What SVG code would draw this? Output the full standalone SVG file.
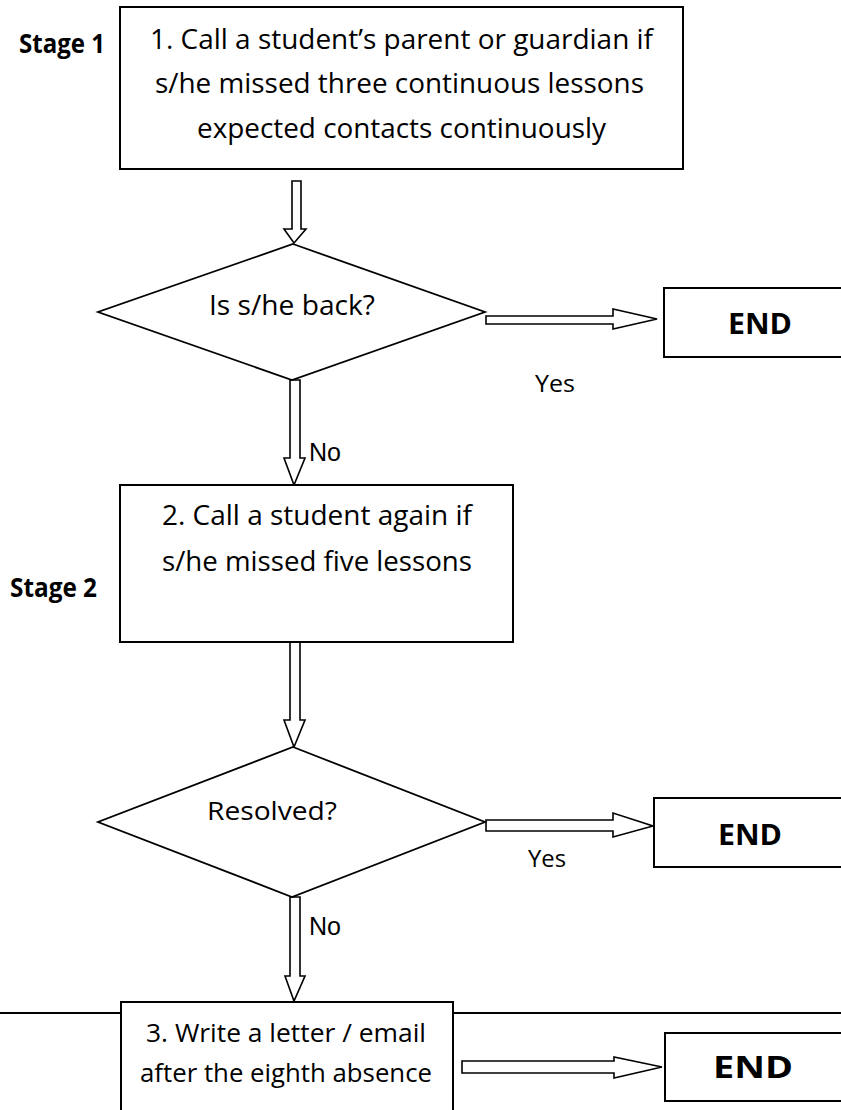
<svg xmlns="http://www.w3.org/2000/svg" width="841" height="1110" viewBox="0 0 841 1110">
<style>
.box{fill:#fff;stroke:#000;stroke-width:2}
.dia{fill:#fff;stroke:#000;stroke-width:1.8}
.arr{fill:#fff;stroke:#000;stroke-width:1.6;stroke-linejoin:miter}
.t{font-family:"Open Sans","Noto Sans",sans-serif;fill:#000}
.b{font-family:"Open Sans","Noto Sans",sans-serif;font-weight:bold;fill:#000}
.a{font-family:"Liberation Sans",Arial,sans-serif;fill:#000}
</style>
<rect width="841" height="1110" fill="#fff"/>
<g id="connectors">
<polygon class="arr" points="292,181 301,181 301,229 306,229 294,243 284,229 292,229"/>
<polygon class="arr" points="290,380 300,380 300,458 305,458 294,485 284,458 290,458"/>
<polygon class="arr" points="290,642 300,642 300,720 305,720 294,747 284,720 290,720"/>
<polygon class="arr" points="290,897 300,897 300,976 305,976 294,1001 285,976 290,976"/>
<polygon class="arr" points="486,316 613,316 613,309 657,319 613,329 613,324 486,324"/>
<polygon class="arr" points="486,820 613,820 613,813 653,826 613,837 613,831 486,831"/>
<polygon class="arr" points="462,1061 614,1061 614,1057 662,1067 614,1078 614,1073 462,1073"/>
<text class="t" x="535" y="392" font-size="24" textLength="40" lengthAdjust="spacingAndGlyphs">Yes</text>
<text class="a" x="309" y="461" font-size="26" textLength="32" lengthAdjust="spacingAndGlyphs">No</text>
<text class="t" x="528" y="867" font-size="24" textLength="38" lengthAdjust="spacingAndGlyphs">Yes</text>
<text class="a" x="309" y="935" font-size="26" textLength="32" lengthAdjust="spacingAndGlyphs">No</text>
</g>
<g id="divider">
<line x1="0" y1="1013" x2="121" y2="1013" stroke="#000" stroke-width="2"/>
<line x1="453" y1="1013" x2="841" y2="1013" stroke="#000" stroke-width="2"/>
</g>
<g id="stage1">
<text class="b" x="19" y="53" font-size="26" textLength="86" lengthAdjust="spacingAndGlyphs">Stage 1</text>
</g>
<g id="stage2">
<text class="b" x="10" y="597" font-size="26" textLength="87" lengthAdjust="spacingAndGlyphs">Stage 2</text>
</g>
<g id="step1">
<rect class="box" x="120" y="7" width="563" height="162"/>
<text class="t" x="150" y="49" font-size="28" textLength="503" lengthAdjust="spacingAndGlyphs">1. Call a student’s parent or guardian if</text>
<text class="t" x="155" y="93" font-size="28" textLength="489" lengthAdjust="spacingAndGlyphs">s/he missed three continuous lessons</text>
<text class="t" x="197" y="138" font-size="28" textLength="409" lengthAdjust="spacingAndGlyphs">expected contacts continuously</text>
</g>
<g id="decision1">
<polygon class="dia" points="293,244 485,312 292,380 98,312"/>
<text class="t" x="209" y="315" font-size="28" textLength="166" lengthAdjust="spacingAndGlyphs">Is s/he back?</text>
</g>
<g id="end1">
<rect class="box" x="664" y="288" width="200" height="69"/>
<text class="b" x="728" y="334" font-size="28" textLength="64" lengthAdjust="spacingAndGlyphs">END</text>
</g>
<g id="step2">
<rect class="box" x="120" y="485" width="393" height="157"/>
<text class="t" x="162" y="525" font-size="28" textLength="310" lengthAdjust="spacingAndGlyphs">2. Call a student again if</text>
<text class="t" x="162" y="571" font-size="28" textLength="310" lengthAdjust="spacingAndGlyphs">s/he missed five lessons</text>
</g>
<g id="decision2">
<polygon class="dia" points="293,747 485,822 292,897 98,822"/>
<text class="t" x="207" y="820" font-size="26" textLength="130" lengthAdjust="spacingAndGlyphs">Resolved?</text>
</g>
<g id="end2">
<rect class="box" x="654" y="798" width="200" height="69"/>
<text class="b" x="718" y="845" font-size="28" textLength="64" lengthAdjust="spacingAndGlyphs">END</text>
</g>
<g id="step3">
<rect class="box" x="121" y="1002" width="332" height="130"/>
<text class="t" x="146" y="1042" font-size="26" textLength="280" lengthAdjust="spacingAndGlyphs">3. Write a letter / email</text>
<text class="t" x="140" y="1082" font-size="26" textLength="292" lengthAdjust="spacingAndGlyphs">after the eighth absence</text>
</g>
<g id="end3">
<rect class="box" x="665" y="1033" width="200" height="68"/>
<text class="b" x="713" y="1078" font-size="30" textLength="80" lengthAdjust="spacingAndGlyphs">END</text>
</g>
</svg>
